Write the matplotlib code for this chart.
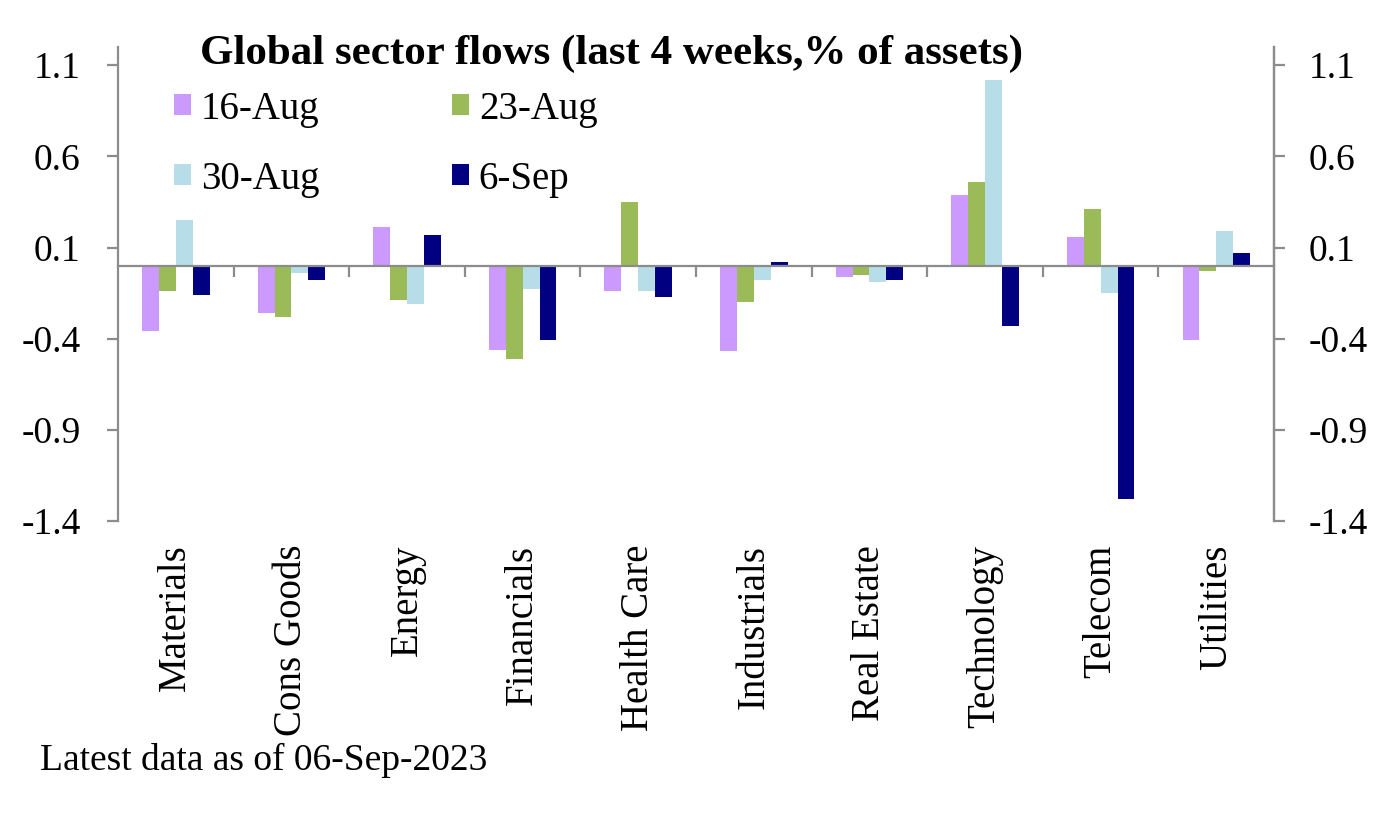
import matplotlib
matplotlib.use("Agg")
import matplotlib.pyplot as plt
import matplotlib.transforms as mtransforms
import numpy as np

categories = ["Materials", "Cons Goods", "Energy", "Financials", "Health Care",
              "Industrials", "Real Estate", "Technology", "Telecom", "Utilities"]
series_names = ["16-Aug", "23-Aug", "30-Aug", "6-Sep"]
aug16 = [-0.36, -0.26, 0.21, -0.46, -0.14, -0.47, -0.06, 0.39, 0.16, -0.41]
aug23 = [-0.14, -0.28, -0.19, -0.51, 0.35, -0.20, -0.05, 0.46, 0.31, -0.03]
aug30 = [0.25, -0.04, -0.21, -0.13, -0.14, -0.08, -0.09, 1.02, -0.15, 0.19]
sep06 = [-0.16, -0.08, 0.17, -0.41, -0.17, 0.02, -0.08, -0.33, -1.28, 0.07]
colors = ["#CC99FF", "#9BBB59", "#B7DEE8", "#000080"]
yticks = [-1.4, -0.9, -0.4, 0.1, 0.6, 1.1]

FONT = "Liberation Serif"
FS_TICK = 27
FS_CAT = 28
FS_LEG = 28
FS_FOOT = 27
FS_TITLE = 31
plt.rcParams['font.family'] = [FONT]

fig = plt.figure(figsize=(13.9, 8.14), dpi=100)
ax = fig.add_axes([0.0849, 0.36, 0.8317, 0.5823])

x = np.arange(len(categories))
w = 0.146
data = [aug16, aug23, aug30, sep06]
handles = []
for i, (vals, c, name) in enumerate(zip(data, colors, series_names)):
    b = ax.bar(x + (i - 1.5) * w, vals, width=w, color=c, label=name, zorder=2)
    handles.append(b)

ax.set_xlim(-0.5, len(categories) - 0.5)
ax.set_ylim(-1.4, 1.2)
ax.set_yticks(yticks)
ax.set_yticklabels([f"{v:.1f}" for v in yticks])

gray = "#8C8C8C"
ax.spines["top"].set_visible(False)
ax.spines["bottom"].set_position(("data", 0))
ax.spines["bottom"].set_color(gray)
ax.spines["bottom"].set_linewidth(1.6)
ax.spines["bottom"].set_zorder(3)
ax.spines["left"].set_color(gray)
ax.spines["left"].set_linewidth(1.6)
ax.spines["right"].set_color(gray)
ax.spines["right"].set_linewidth(1.6)

ax.set_xticks(x[:-1] + 0.5)
ax.set_xticklabels([])
ax.tick_params(axis="x", direction="out", length=8, width=1.6, color=gray)
ax.tick_params(axis="y", direction="out", length=8, width=1.6, color=gray,
               labelsize=FS_TICK, pad=19)

ax2 = ax.twinx()
ax2.set_ylim(ax.get_ylim())
ax2.set_yticks(yticks)
ax2.set_yticklabels([f"{v:.1f}" for v in yticks])
for s in ["top", "bottom", "left"]:
    ax2.spines[s].set_visible(False)
ax2.spines["right"].set_color(gray)
ax2.spines["right"].set_linewidth(1.6)
ax2.tick_params(axis="y", direction="out", length=8, width=1.6, color=gray,
                labelsize=FS_TICK, pad=17)

trans = mtransforms.blended_transform_factory(ax.transData, ax.transAxes)
for xi, cat in zip(x, categories):
    ax.text(xi, -0.05, cat, rotation=90, ha="center", va="top",
            fontsize=FS_CAT, transform=trans)

fig.text(0.1439, 0.921, "Global sector flows (last 4 weeks,% of assets)",
         fontsize=FS_TITLE, fontweight="bold", ha="left", va="baseline")

order = [0, 2, 1, 3]
leg = ax.legend(handles=[handles[i] for i in order],
                labels=[series_names[i] for i in order], ncol=2,
                loc="upper left", bbox_to_anchor=(0.048, 0.908),
                borderaxespad=0, borderpad=0,
                frameon=False, fontsize=FS_LEG, handlelength=0.45, handleheight=0.45,
                handletextpad=0.25, columnspacing=3.4, labelspacing=0.85)

fig.text(0.0288, 0.054, "Latest data as of 06-Sep-2023", fontsize=FS_FOOT,
         ha="left", va="baseline")

fig.savefig("out.png", dpi=100)
